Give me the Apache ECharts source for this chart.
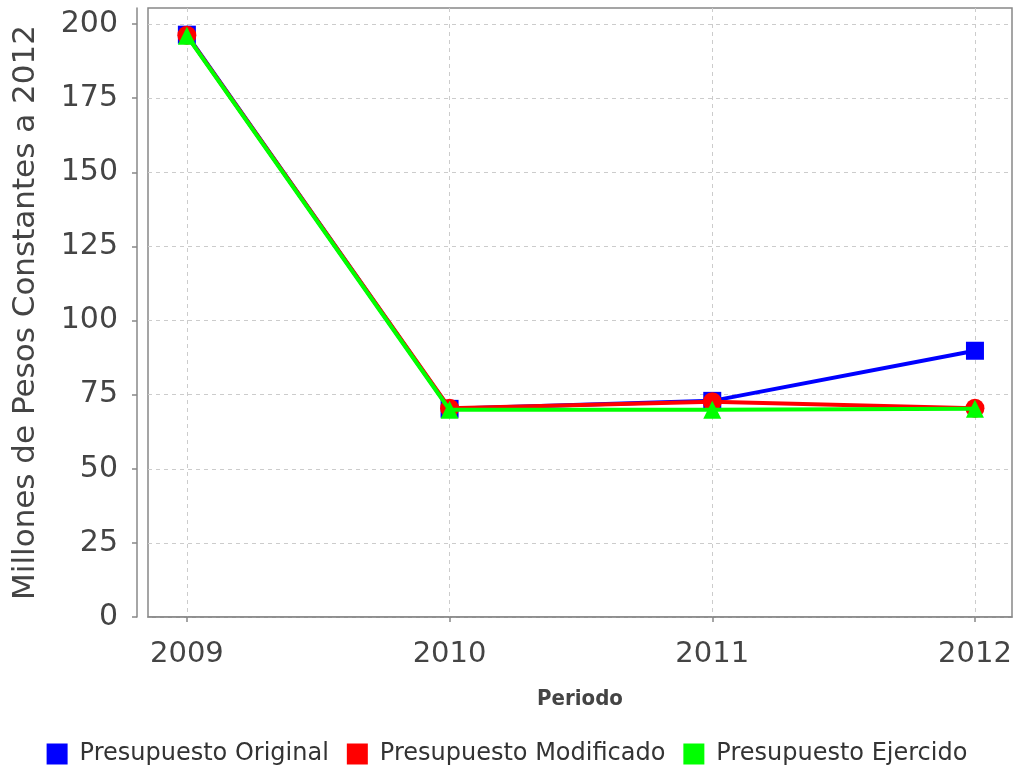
<!DOCTYPE html>
<html>
<head>
<meta charset="utf-8">
<script src="https://cdn.jsdelivr.net/npm/echarts@6/dist/echarts.min.js"></script>
<style>html,body{margin:0;padding:0;background:#fff}#c{width:1014px;height:767px}</style>
</head>
<body>
<div id="c"></div>
<script>
var years = [2009, 2010, 2011, 2012];
var yTicks = [0, 25, 50, 75, 100, 125, 150, 175, 200];
var seriesNames = ['Presupuesto Original', 'Presupuesto Modificado', 'Presupuesto Ejercido'];
var original = [196.4, 70.2, 72.9, 89.8];
var modificado = [196.2, 70.4, 72.6, 70.4];
var ejercido = [196.0, 69.9, 69.9, 70.2];

function pairs(vals) { return years.map(function (y, i) { return [y, vals[i]]; }); }

var chart = echarts.init(document.getElementById('c'));
var txt = '#444';
chart.setOption({
  animation: false,
  backgroundColor: '#fff',
  grid: { left: 148, right: 2, top: 8, bottom: 150, show: true, borderColor: '#888', borderWidth: 1.5, backgroundColor: '#fff', outerBoundsMode: 'none', containLabel: false },
  legend: {
    top: 737, left: 'center', itemWidth: 21, itemHeight: 21, itemGap: 18, icon: 'rect',
    data: seriesNames,
    textStyle: { fontFamily: 'DejaVu Sans', fontSize: 24, color: '#333', padding: [0, 0, 0, 7] }
  },
  xAxis: {
    type: 'value', min: 2008.852, max: 2012.141,
    offset: 11,
    name: 'Periodo', nameLocation: 'middle', nameGap: 60,
    nameTextStyle: { fontFamily: 'DejaVu Sans Condensed', fontWeight: 'bold', fontSize: 22, color: '#444' },
    axisLine: { show: true, lineStyle: { color: '#888', width: 1.5 } },
    axisTick: { show: true, length: 5, lineStyle: { color: '#888', width: 1.5 }, customValues: years },
    axisLabel: { customValues: years, margin: 12, fontFamily: 'DejaVu Sans', fontSize: 29, color: txt, formatter: function (v) { return String(v); } },
    splitLine: { show: true, lineStyle: { color: '#ccc', type: [4, 4], width: 1 } }
  },
  yAxis: {
    type: 'value', min: 0, max: 205.4,
    offset: 11,
    name: 'Millones de Pesos Constantes a 2012', nameLocation: 'middle', nameGap: 96, nameRotate: 90,
    nameTextStyle: { fontFamily: 'DejaVu Sans', fontSize: 31, color: txt },
    axisLine: { show: true, lineStyle: { color: '#888', width: 1.5 } },
    axisTick: { show: true, length: 5, lineStyle: { color: '#888', width: 1.5 }, customValues: yTicks },
    axisLabel: { customValues: yTicks, margin: 19, fontFamily: 'DejaVu Sans', fontSize: 30, color: txt },
    splitLine: { show: true, lineStyle: { color: '#ccc', type: [4, 4], width: 1 } }
  },
  series: [
    { name: seriesNames[0], type: 'line', data: pairs(original), symbol: 'rect', symbolSize: 18,
      itemStyle: { color: '#0000ff' }, lineStyle: { color: '#0000ff', width: 4 }, z: 2 },
    { name: seriesNames[1], type: 'line', data: pairs(modificado), symbol: 'circle', symbolSize: 19,
      itemStyle: { color: '#ff0000' }, lineStyle: { color: '#ff0000', width: 4 }, z: 3 },
    { name: seriesNames[2], type: 'line', data: pairs(ejercido), symbol: 'triangle', symbolSize: 18,
      itemStyle: { color: '#00ff00' }, lineStyle: { color: '#00ff00', width: 4 }, z: 4 }
  ]
});
</script>
</body>
</html>
